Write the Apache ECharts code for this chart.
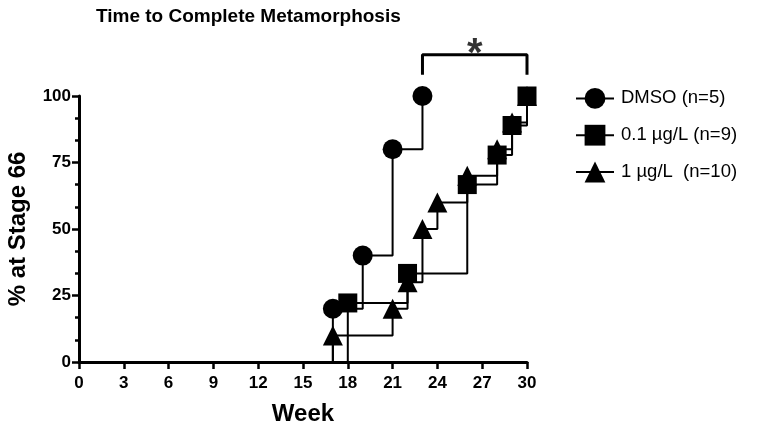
<!DOCTYPE html>
<html><head><meta charset="utf-8">
<script src="https://cdn.jsdelivr.net/npm/echarts@6/dist/echarts.min.js"></script>
<style>html,body{margin:0;padding:0;background:#fff}#c{width:760px;height:434px}</style>
</head><body><div id="c"></div>
<script>
// ---- data ----
const weekRange = [0, 30];
const weekStep = 3;
const pctRange = [0, 100];
const pctStep = 25;
const seriesNames = ['DMSO (n=5)', '0.1 µg/L (n=9)', '1 µg/L  (n=10)'];
const dmsoWeeks = [17, 19, 21, 23];
const dmsoPct = [20, 40, 80, 100];
const lowWeeks = [18, 22, 26, 28, 29, 30];
const lowPct = [22.2, 33.3, 66.7, 77.8, 88.9, 100];
const highWeeks = [17, 21, 22, 23, 24, 26, 28, 29, 30];
const highPct = [10, 20, 30, 50, 60, 70, 80, 90, 100];
const sigWeeks = [23, 30];
const sigLabel = '*';

// ---- chart ----
const FONT = '"Liberation Sans", Arial, Helvetica, sans-serif';
function km(weeks, pct) {
  const d = [{ value: [weeks[0], 0], symbol: 'none' }];
  weeks.forEach((w, i) => d.push([w, pct[i]]));
  return d;
}
function kmSeries(name, weeks, pct, symbol, size, z) {
  return {
    name, type: 'line', step: 'end', data: km(weeks, pct),
    symbol, symbolSize: size, showAllSymbol: true, z,
    lineStyle: { color: '#000', width: 2 },
    itemStyle: { color: '#000' },
    emphasis: { disabled: true }, animation: false
  };
}
const bracketTop = 115.5, bracketLeg = 108;
const chart = echarts.init(document.getElementById('c'), null, { renderer: 'canvas' });
chart.setOption({
  animation: false,
  textStyle: { fontFamily: FONT },
  title: {
    text: 'Time to Complete Metamorphosis', left: 96, top: 7, padding: 0,
    textStyle: { fontFamily: FONT, fontSize: 19, fontWeight: 'bold', color: '#000' }
  },
  legend: {
    data: seriesNames, orient: 'vertical', left: 575, top: 88, padding: 0,
    itemWidth: 38, itemHeight: 26, itemGap: 16,
    textStyle: { fontFamily: FONT, fontSize: 18.5, color: '#000', padding: [0, 0, 0, 2] }
  },
  grid: { left: 79, right: 233, top: 96, bottom: 72, outerBoundsMode: 'none', containLabel: false },
  xAxis: {
    type: 'value', min: weekRange[0], max: weekRange[1], interval: weekStep,
    axisLine: { lineStyle: { color: '#000', width: 3 } },
    axisTick: { length: 7, lineStyle: { color: '#000', width: 2.5 } },
    axisLabel: { color: '#000', fontSize: 17, fontWeight: 'bold', margin: 13, fontFamily: FONT },
    splitLine: { show: false },
    name: 'Week', nameLocation: 'middle', nameGap: 40,
    nameTextStyle: { color: '#000', fontSize: 24, fontWeight: 'bold', fontFamily: FONT }
  },
  yAxis: {
    type: 'value', min: pctRange[0], max: pctRange[1], interval: pctStep,
    axisLine: { show: true, lineStyle: { color: '#000', width: 3 } },
    axisTick: { show: true, length: 7, lineStyle: { color: '#000', width: 2.5 } },
    minorTick: { show: true, splitNumber: 3, length: 4, lineStyle: { color: '#000', width: 2.5 } },
    axisLabel: { color: '#000', fontSize: 17, fontWeight: 'bold', margin: 8, fontFamily: FONT },
    splitLine: { show: false }, minorSplitLine: { show: false },
    name: '% at Stage 66', nameLocation: 'middle', nameGap: 49,
    nameTextStyle: { color: '#000', fontSize: 24, fontWeight: 'bold', fontFamily: FONT }
  },
  series: [
    kmSeries(seriesNames[0], dmsoWeeks, dmsoPct, 'circle', 20, 5),
    kmSeries(seriesNames[1], lowWeeks, lowPct, 'rect', 19, 4),
    kmSeries(seriesNames[2], highWeeks, highPct, 'triangle', 20, 3),
    {
      name: 'sig', type: 'line', clip: false, symbol: 'none', silent: true,
      data: [[sigWeeks[0], bracketLeg], [sigWeeks[0], bracketTop], [sigWeeks[1], bracketTop], [sigWeeks[1], bracketLeg]],
      lineStyle: { color: '#000', width: 3 }, z: 6
    },
    {
      name: 'sigmark', type: 'scatter', clip: false, silent: true, symbolSize: 1,
      itemStyle: { color: 'rgba(0,0,0,0)' },
      data: [[(sigWeeks[0] + sigWeeks[1]) / 2, bracketTop]],
      label: { show: true, formatter: sigLabel, position: 'inside', fontSize: 40, fontWeight: 'bold', color: '#000', fontFamily: FONT }
    }
  ]
});
</script></body></html>
